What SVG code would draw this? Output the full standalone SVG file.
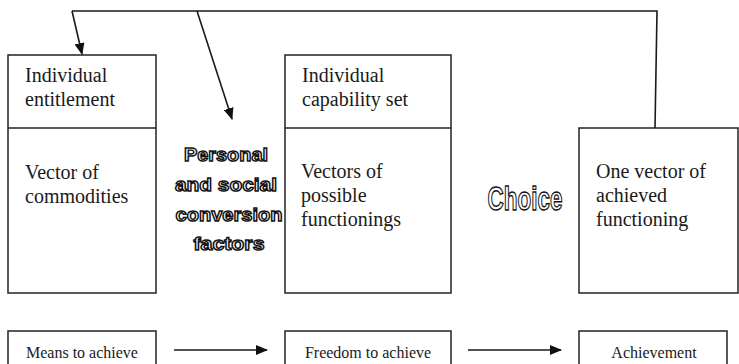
<svg xmlns="http://www.w3.org/2000/svg" width="739" height="364" viewBox="0 0 739 364">
  <style>
    .box { fill: #ffffff; stroke: #222222; stroke-width: 1.5; }
    .rule { stroke: #222222; stroke-width: 1.5; fill: none; }
    .wire { stroke: #1a1a1a; stroke-width: 1.6; fill: none; }
    .outline { font-weight: bold; fill: #ffffff; stroke: #111111; stroke-width: 1.4; }
  </style>
  <defs>
    <marker id="head" viewBox="0 0 12 10" refX="11" refY="5" markerWidth="12" markerHeight="10" markerUnits="userSpaceOnUse" orient="auto">
      <path d="M0,0 L12,5 L0,10 z" fill="#111111"/>
    </marker>
  </defs>

  <rect width="739" height="364" fill="#ffffff"/>

  <!-- connectors -->
  <g id="connectors">
    <!-- feedback loop from achieved functioning back to entitlement and conversion factors -->
    <polyline class="wire" points="655,128 657,11 72,11"/>
    <line class="wire" x1="72" y1="11" x2="82" y2="54" marker-end="url(#head)"/>
    <line class="wire" x1="197" y1="11" x2="232" y2="119" marker-end="url(#head)"/>
    <!-- bottom row progression -->
    <line class="wire" x1="174" y1="350" x2="267" y2="350" marker-end="url(#head)"/>
    <line class="wire" x1="468" y1="350" x2="561" y2="350" marker-end="url(#head)"/>
  </g>

  <!-- individual entitlement -->
  <g id="entitlement" font-family="Liberation Serif, Times New Roman, DejaVu Serif, serif" font-size="20" fill="#1a1a1a">
    <rect class="box" x="8" y="55" width="148" height="238"/>
    <line class="rule" x1="8" y1="128" x2="156" y2="128"/>
    <text x="25" y="82">Individual</text>
    <text x="25" y="106">entitlement</text>
    <text x="25" y="179">Vector of</text>
    <text x="25" y="203">commodities</text>
  </g>

  <!-- conversion factors -->
  <g id="conversion-factors" font-family="Liberation Sans, Arial, sans-serif" font-size="19" text-anchor="middle">
    <text class="outline" x="226" y="161" textLength="84" lengthAdjust="spacingAndGlyphs">Personal</text>
    <text class="outline" x="226" y="191" textLength="102" lengthAdjust="spacingAndGlyphs">and social</text>
    <text class="outline" x="229" y="221" textLength="107" lengthAdjust="spacingAndGlyphs">conversion</text>
    <text class="outline" x="229" y="250" textLength="71" lengthAdjust="spacingAndGlyphs">factors</text>
  </g>

  <!-- individual capability set -->
  <g id="capability-set" font-family="Liberation Serif, Times New Roman, DejaVu Serif, serif" font-size="20" fill="#1a1a1a">
    <rect class="box" x="285" y="55" width="166" height="238"/>
    <line class="rule" x1="285" y1="128" x2="451" y2="128"/>
    <text x="302" y="82">Individual</text>
    <text x="302" y="106">capability set</text>
    <text x="301" y="178">Vectors of</text>
    <text x="301" y="202">possible</text>
    <text x="301" y="226">functionings</text>
  </g>

  <!-- choice -->
  <g id="choice" font-family="Liberation Sans, Arial, sans-serif" font-size="34" text-anchor="middle">
    <text class="outline" x="525" y="210" textLength="75" lengthAdjust="spacingAndGlyphs">Choice</text>
  </g>

  <!-- achieved functioning -->
  <g id="achieved-functioning" font-family="Liberation Serif, Times New Roman, DejaVu Serif, serif" font-size="20" fill="#1a1a1a">
    <rect class="box" x="579" y="128" width="159" height="165"/>
    <text x="596" y="178">One vector of</text>
    <text x="596" y="202">achieved</text>
    <text x="596" y="226">functioning</text>
  </g>

  <!-- bottom row -->
  <g id="means" font-family="Liberation Serif, Times New Roman, DejaVu Serif, serif" font-size="16" fill="#1a1a1a" text-anchor="middle">
    <rect class="box" x="8" y="331" width="148" height="40"/>
    <text x="82" y="358">Means to achieve</text>
  </g>
  <g id="freedom" font-family="Liberation Serif, Times New Roman, DejaVu Serif, serif" font-size="16" fill="#1a1a1a" text-anchor="middle">
    <rect class="box" x="285" y="331" width="166" height="40"/>
    <text x="368" y="358">Freedom to achieve</text>
  </g>
  <g id="achievement" font-family="Liberation Serif, Times New Roman, DejaVu Serif, serif" font-size="16" fill="#1a1a1a" text-anchor="middle">
    <rect class="box" x="579" y="331" width="148" height="40"/>
    <text x="654" y="358">Achievement</text>
  </g>
</svg>
